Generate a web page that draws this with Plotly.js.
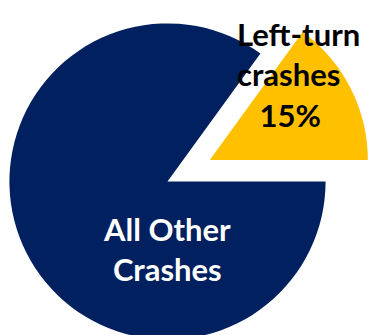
<!DOCTYPE html>
<html><head><meta charset="utf-8">
<script src="https://cdn.plot.ly/plotly-3.0.1.min.js"></script>
<style>
html,body{margin:0;padding:0;width:370px;height:335px;overflow:hidden;background:#fff;}
#chart{position:absolute;left:-38.5px;top:-24.5px;width:411px;height:411px;}
</style></head>
<body><div id="chart"></div>
<script>
const categories = ["Left-turn crashes", "All Other Crashes"];
const values = [15, 85];
const sliceColors = ["#FFC000", "#002060"];
const labelLines = [["Left-turn", "crashes"], ["All Other", "Crashes"]];

const S = 411, offX = 38.5, offY = 24.5;
function px(x){ return (x + offX) / S; }
function py(y){ return 1 - (y + offY) / S; }

const total = values.reduce((a,b)=>a+b,0);
const pct = values.map(v => Math.round(v / total * 100) + "%");

const trace = {
  type: "pie",
  labels: categories,
  values: values,
  marker: {colors: sliceColors, line: {width: 0}},
  sort: false,
  direction: "clockwise",
  rotation: 36,
  pull: [0.3, 0],
  textinfo: "none",
  hoverinfo: "label+percent",
  showlegend: false,
  domain: {x: [0, 1], y: [0, 1]}
};

const annotations = [
  {
    text: "<b>" + labelLines[0][0] + "<br>" + labelLines[0][1] + "<br>\u00a0\u00a0\u00a0" + pct[0] + "</b>",
    x: px(234), y: py(74), xref: "paper", yref: "paper",
    xanchor: "left", yanchor: "middle", align: "left", showarrow: false,
    font: {family: "Lato, 'Open Sans', sans-serif", size: 31, color: "#000000"}
  },
  {
    text: "<b>" + labelLines[1][0] + "<br>" + labelLines[1][1] + "</b>",
    x: px(166), y: py(248), xref: "paper", yref: "paper",
    xanchor: "center", yanchor: "middle", align: "center", showarrow: false,
    font: {family: "Lato, 'Open Sans', sans-serif", size: 31, color: "#FFFFFF"}
  }
];

Plotly.newPlot("chart", [trace], {
  width: S, height: S,
  margin: {l: 0, r: 0, t: 0, b: 0},
  paper_bgcolor: "rgba(0,0,0,0)",
  plot_bgcolor: "rgba(0,0,0,0)",
  annotations: annotations
}, {displayModeBar: false, staticPlot: true});
</script></body></html>
